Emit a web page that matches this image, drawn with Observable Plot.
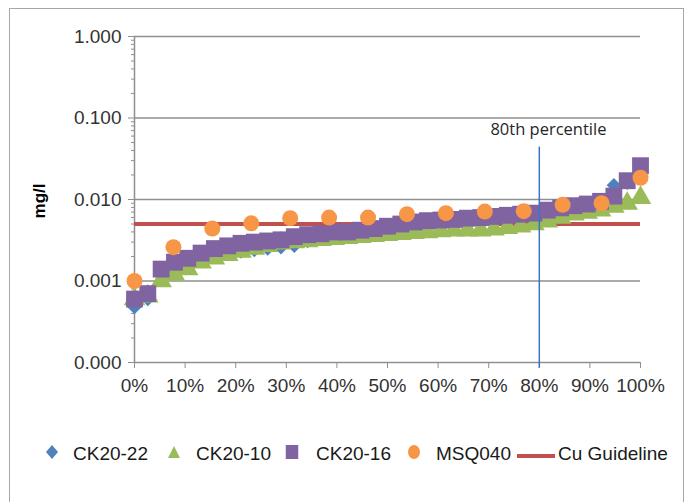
<!DOCTYPE html>
<html>
<head>
<meta charset="utf-8">
<script src="https://cdn.jsdelivr.net/npm/d3@7"></script>
<script src="https://cdn.jsdelivr.net/npm/@observablehq/plot@0.6"></script>
<style>
  html, body { margin: 0; padding: 0; background: #fff; }
  body { width: 686px; height: 502px; position: relative; overflow: hidden; font-family: "Liberation Sans", Arial, sans-serif; }
  #frame { position: absolute; left: 9px; top: 8px; width: 675px; height: 500px; border: 1.5px solid #a6a6a6; border-bottom: none; box-sizing: border-box; }
  #chart { position: absolute; left: 0; top: 0; }
  #ylabel { position: absolute; left: 40px; top: 201px; transform: translate(-50%, -50%) rotate(-90deg); font-weight: bold; font-size: 17px; color: #000; white-space: nowrap; }
  .leg { position: absolute; top: 454px; transform: translateY(-50%); font-size: 19px; color: #1a1a1a; white-space: nowrap; }
  .mk { position: absolute; top: 454px; transform: translate(-50%, -50%); }
</style>
</head>
<body>
<div id="frame"></div>
<div id="chart"></div>
<div id="ylabel">mg/l</div>
<div id="legend"></div>
<script>
// ---- data ----
const seriesNames = ["CK20-22", "CK20-10", "CK20-16", "MSQ040"];
const ck2022 = [0.00048, 0.0006, 0.0012, 0.0014, 0.0016, 0.0018, 0.002, 0.0022, 0.0023, 0.0024, 0.0025, 0.0026, 0.0027, 0.0031, 0.0033, 0.0034, 0.0035, 0.0036, 0.0037, 0.0038, 0.004, 0.0042, 0.0044, 0.0046, 0.0047, 0.0049, 0.005, 0.0052, 0.0055, 0.0058, 0.0062, 0.0067, 0.0072, 0.0078, 0.0085, 0.0096, 0.015, 0.016, 0.023];
const ck2010 = [0.0006, 0.00065, 0.001, 0.0012, 0.0014, 0.0017, 0.0019, 0.0021, 0.0023, 0.0025, 0.0027, 0.0029, 0.003, 0.0031, 0.0032, 0.0033, 0.0034, 0.0035, 0.0036, 0.0037, 0.0038, 0.0039, 0.004, 0.0041, 0.0042, 0.0042, 0.0042, 0.0043, 0.0045, 0.0047, 0.005, 0.0054, 0.006, 0.0066, 0.0069, 0.0074, 0.0082, 0.0089, 0.0105];
const ck2016 = [0.0006, 0.0007, 0.0014, 0.0017, 0.0019, 0.0022, 0.0025, 0.0027, 0.0029, 0.003, 0.0031, 0.0032, 0.0035, 0.0037, 0.0038, 0.004, 0.004, 0.0042, 0.0044, 0.0047, 0.005, 0.0053, 0.0055, 0.0056, 0.0057, 0.0059, 0.006, 0.0062, 0.0064, 0.0066, 0.0068, 0.0074, 0.0079, 0.0084, 0.0088, 0.0095, 0.011, 0.017, 0.026];
const msq040 = [0.001, 0.0026, 0.0044, 0.0051, 0.0059, 0.006, 0.006, 0.0066, 0.0068, 0.0071, 0.0072, 0.0086, 0.009, 0.0185];
const guideline = 0.005;          // Cu Guideline, mg/l
const percentileMark = 0.8;       // 80th percentile
const percentileLabel = "80th percentile";
const yTicks = [0.0001, 0.001, 0.01, 0.1, 1];
const yTickLabels = ["0.000", "0.001", "0.010", "0.100", "1.000"];
const xTicks = [0, 0.1, 0.2, 0.3, 0.4, 0.5, 0.6, 0.7, 0.8, 0.9, 1];
const xTickLabels = ["0%", "10%", "20%", "30%", "40%", "50%", "60%", "70%", "80%", "90%", "100%"];
const minorTicks = [];
for (let e = -4; e < 0; e++) for (let m = 2; m <= 9; m++) minorTicks.push(m * Math.pow(10, e));

const colors = {"CK20-22": "#4F81BD", "CK20-10": "#9BBB59", "CK20-16": "#8064A2", "MSQ040": "#F79646", guide: "#C0504D"};

// percentile rank of each sorted sample
const toRows = (vals) => vals.map((v, i) => ({p: i / (vals.length - 1), v}));
const d22 = toRows(ck2022), d10 = toRows(ck2010), d16 = toRows(ck2016), dMsq = toRows(msq040);

const yLab = new Map(yTicks.map((t, i) => [t, yTickLabels[i]]));
const xLab = new Map(xTicks.map((t, i) => [t, xTickLabels[i]]));

const chart = Plot.plot({
  width: 686,
  height: 420,
  marginLeft: 134,
  marginRight: 46,
  marginTop: 36,
  marginBottom: 58,
  style: {fontFamily: "'Liberation Sans', Arial, sans-serif", fontSize: "19px", color: "#333", background: "transparent", overflow: "visible"},
  x: {domain: [0, 1]},
  y: {type: "log", domain: [0.0001, 1]},
  marks: [
    Plot.ruleY(yTicks, {stroke: "#8f8f8f", strokeWidth: 1.5}),
    Plot.ruleX([0], {stroke: "#8f8f8f", strokeWidth: 1.5}),
    Plot.axisY({ticks: minorTicks, tickSize: 3, stroke: "#8f8f8f", tickFormat: () => "", label: null}),
    Plot.axisY({ticks: yTicks, tickSize: 6, tickPadding: 7, stroke: "#8f8f8f", tickFormat: (d) => yLab.get(d), label: null, fontSize: 19}),
    Plot.axisX({ticks: xTicks, tickSize: 6, tickPadding: 10, stroke: "#8f8f8f", tickFormat: (d) => xLab.get(d), label: null, fontSize: 19}),
    Plot.ruleY([guideline], {stroke: colors.guide, strokeWidth: 4}),
    Plot.dot(d22, {x: "p", y: "v", symbol: "diamond2", r: 6.5, fill: colors["CK20-22"]}),
    Plot.dot(d10, {x: "p", y: "v", symbol: "triangle", r: 8, fill: colors["CK20-10"]}),
    Plot.dot(d16, {x: "p", y: "v", symbol: "square", r: 9.5, fill: colors["CK20-16"]}),
    Plot.dot(dMsq, {x: "p", y: "v", symbol: "circle", r: 8, fill: colors["MSQ040"]}),
    Plot.ruleX([percentileMark], {y1: 0.044, y2: 0.000085, stroke: "#3a75c4", strokeWidth: 1.5, clip: false}),
    Plot.text([percentileLabel], {x: 0.818, y: 0.071, text: (d) => d, fontFamily: "'Open Sans', sans-serif", fontSize: 16.5, fill: "#262626"})
  ]
});
document.getElementById("chart").appendChild(chart);

// ---- legend ----
const legendItems = [
  {name: "CK20-22", kind: "diamond", mx: 52, tx: 73},
  {name: "CK20-10", kind: "triangle", mx: 174, tx: 196},
  {name: "CK20-16", kind: "square", mx: 292, tx: 316},
  {name: "MSQ040", kind: "circle", mx: 414, tx: 436},
  {name: "Cu Guideline", kind: "line", mx: 536, tx: 558}
];
const shapes = {
  diamond: `<svg width="14" height="16"><polygon points="7,1 13,8 7,15 1,8" fill="${colors["CK20-22"]}"/></svg>`,
  triangle: `<svg width="14" height="14"><polygon points="7,1 13,13 1,13" fill="${colors["CK20-10"]}"/></svg>`,
  square: `<svg width="13" height="14"><rect x="0" y="0" width="13" height="14" fill="${colors["CK20-16"]}"/></svg>`,
  circle: `<svg width="13" height="14"><ellipse cx="6.5" cy="7" rx="6" ry="7" fill="${colors["MSQ040"]}"/></svg>`,
  line: `<svg width="38" height="6"><rect x="0" y="1" width="38" height="4" fill="${colors.guide}"/></svg>`
};
const leg = document.getElementById("legend");
for (const it of legendItems) {
  const m = document.createElement("div");
  m.className = "mk"; m.style.left = it.mx + "px"; m.innerHTML = shapes[it.kind];
  leg.appendChild(m);
  const t = document.createElement("div");
  t.className = "leg"; t.style.left = it.tx + "px"; t.textContent = it.name;
  leg.appendChild(t);
}
</script>
</body>
</html>
